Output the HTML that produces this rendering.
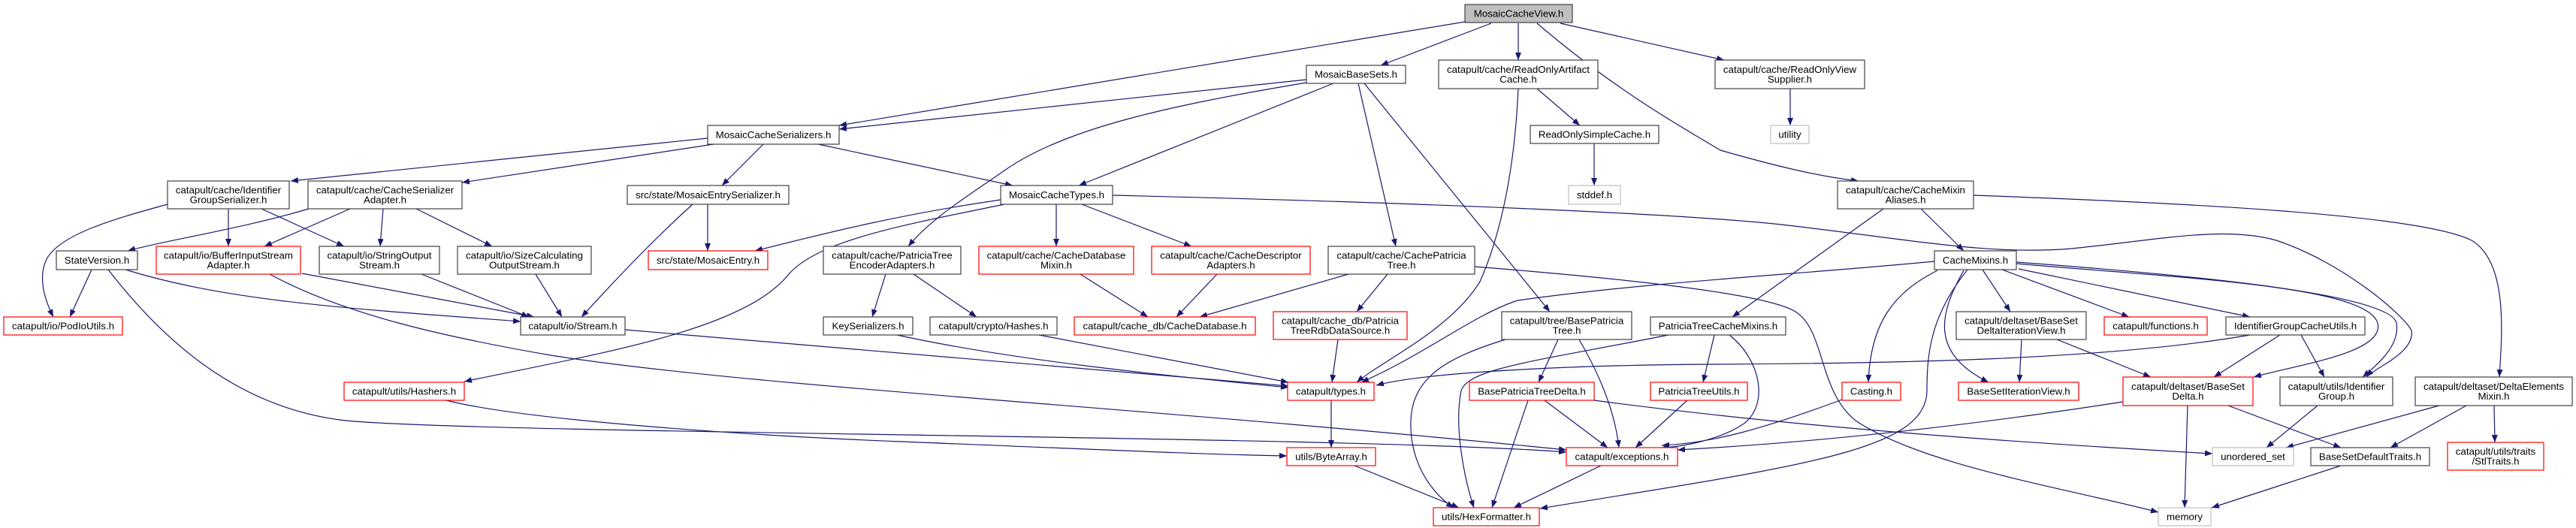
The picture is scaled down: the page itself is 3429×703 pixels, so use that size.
<!DOCTYPE html>
<html><head><meta charset="utf-8"><style>
html,body{margin:0;padding:0;background:#fff;}
svg{display:block;}
text{font-family:"Liberation Sans",Arial,sans-serif;font-size:13.3px;fill:#000;text-anchor:middle;}
.n{fill:#fff;stroke:#404040;stroke-width:1.2;}
.r{fill:#fff;stroke:#ff0000;stroke-width:1.2;}
.g{fill:#fff;stroke:#bfbfbf;stroke-width:1.2;}
.m{fill:#bfbfbf;stroke:#404040;stroke-width:1.2;}
path.e{fill:none;stroke:#191970;stroke-width:1.2;marker-end:url(#a);}
</style></head><body>
<svg width="3429" height="703" viewBox="0 0 3429 703" xmlns="http://www.w3.org/2000/svg">
<defs><marker id="a" markerWidth="10" markerHeight="8" refX="10" refY="4" orient="auto" markerUnits="userSpaceOnUse"><path d="M0,0 L10,4 L0,8z" fill="#191970"/></marker></defs>
<g>
<path class="e" d="M1950,29 L1117,167"/>
<path class="e" d="M1739,106 L1117,172"/>
<path class="e" d="M1985,31 L1838,87"/>
<path class="e" d="M2021,31 L2021,80"/>
<path class="e" d="M2046,31 C2150,120 2240,170 2290,200 C2360,220 2420,235 2474,241"/>
<path class="e" d="M2077,31 L2295,80"/>
<path class="e" d="M1775,111 L1436,247"/>
<path class="e" d="M1739,110 C1560,140 1420,170 1340,225 C1290,260 1240,290 1209,328"/>
<path class="e" d="M1808,111 L1858,328"/>
<path class="e" d="M1816,111 L2063,415"/>
<path class="e" d="M942,184 C700,210 540,225 387,241"/>
<path class="e" d="M950,192 L615,243"/>
<path class="e" d="M1016,192 L961,247"/>
<path class="e" d="M1089,192 L1348,247"/>
<path class="e" d="M223,272 C150,292 80,312 62,345 C50,370 60,400 71,422"/>
<path class="e" d="M304,278 L304,328"/>
<path class="e" d="M348,278 L458,328"/>
<path class="e" d="M411,278 C320,305 220,320 170,334"/>
<path class="e" d="M466,278 L352,328"/>
<path class="e" d="M510,278 L506,328"/>
<path class="e" d="M554,278 L655,328"/>
<path class="e" d="M942,272 L942,334"/>
<path class="e" d="M922,272 C880,310 840,350 774,422"/>
<path class="e" d="M122,359 L93,422"/>
<path class="e" d="M167,359 C300,400 450,410 693,428"/>
<path class="e" d="M144,359 C230,470 330,545 460,560 C650,578 1800,580 2085,602"/>
<path class="e" d="M402,364 L711,422"/>
<path class="e" d="M359,365 C460,420 600,450 733,473 C1000,515 1500,540 2085,599"/>
<path class="e" d="M561,365 L704,422"/>
<path class="e" d="M713,365 L748,422"/>
<path class="e" d="M832,439 L1715,514"/>
<path class="e" d="M594,533 C700,560 1000,580 1200,588 C1450,598 1600,605 1713,607"/>
<path class="e" d="M1332,266 C1200,285 1100,310 1005,334"/>
<path class="e" d="M1337,272 C1200,300 1090,320 1050,365 C990,440 800,470 618,508"/>
<path class="e" d="M1406,272 L1406,328"/>
<path class="e" d="M1440,272 L1586,328"/>
<path class="e" d="M1481,260 C1900,270 2250,285 2380,300 C2550,320 2650,340 2757,331 C2870,320 2960,300 3030,320 C3120,350 3200,420 3210,440 C3215,470 3160,490 3150,502"/>
<path class="e" d="M1620,365 L1566,422"/>
<path class="e" d="M1438,365 L1528,422"/>
<path class="e" d="M1179,365 L1161,422"/>
<path class="e" d="M1216,365 L1300,422"/>
<path class="e" d="M1194,446 C1350,480 1550,500 1715,516"/>
<path class="e" d="M1383,446 L1715,509"/>
<path class="e" d="M1795,365 L1597,422"/>
<path class="e" d="M1847,365 L1806,415"/>
<path class="e" d="M1963,355 C2150,370 2350,390 2390,415 C2430,440 2420,520 2470,560 C2560,620 2750,650 2873,682"/>
<path class="e" d="M1781,452 L1773,509"/>
<path class="e" d="M2046,118 L2103,167"/>
<path class="e" d="M2021,118 C2015,250 1990,330 1970,375 C1930,440 1840,480 1806,509"/>
<path class="e" d="M2122,191 L2122,247"/>
<path class="e" d="M2383,118 L2383,167"/>
<path class="e" d="M2004,452 C1930,475 1880,500 1878,560 C1876,620 1910,660 1935,676"/>
<path class="e" d="M2074,452 L2048,509"/>
<path class="e" d="M2102,452 C2130,500 2150,550 2155,596"/>
<path class="e" d="M2221,446 C2050,480 1955,490 1945,520 C1935,570 1950,640 1962,676"/>
<path class="e" d="M2282,446 L2267,509"/>
<path class="e" d="M2302,446 C2345,480 2355,540 2320,565 C2290,585 2240,595 2212,596"/>
<path class="e" d="M2507,278 L2306,422"/>
<path class="e" d="M2557,278 L2614,334"/>
<path class="e" d="M2627,260 C2900,270 3220,285 3290,320 C3340,350 3330,450 3327,502"/>
<path class="e" d="M2575,348 C2400,365 2200,375 2020,400 C1960,420 1900,470 1812,509"/>
<path class="e" d="M2619,359 C2570,420 2565,470 2565,520 C2565,600 2400,620 2050,677"/>
<path class="e" d="M2579,360 C2520,390 2490,430 2487,509"/>
<path class="e" d="M2614,360 C2580,420 2570,470 2647,509"/>
<path class="e" d="M2639,359 L2676,415"/>
<path class="e" d="M2665,359 L2834,422"/>
<path class="e" d="M2687,358 L2995,422"/>
<path class="e" d="M2684,351 C2900,370 3150,380 3165,430 C3175,470 3060,485 3000,502"/>
<path class="e" d="M2684,349 C2900,365 3180,390 3190,430 C3195,460 3165,485 3145,502"/>
<path class="e" d="M2122,533 C2400,570 2700,590 2945,604"/>
<path class="e" d="M2826,535 C2600,570 2400,590 2233,599"/>
<path class="e" d="M2452,532 C2350,570 2280,590 2212,593"/>
<path class="e" d="M2246,533 L2177,596"/>
<path class="e" d="M2056,533 L2140,596"/>
<path class="e" d="M2034,533 L1986,676"/>
<path class="e" d="M2131,620 L2015,676"/>
<path class="e" d="M1803,620 L1942,676"/>
<path class="e" d="M1772,533 L1772,596"/>
<path class="e" d="M2691,452 L2688,509"/>
<path class="e" d="M2738,452 L2863,502"/>
<path class="e" d="M3035,446 L2947,502"/>
<path class="e" d="M3063,446 L3094,502"/>
<path class="e" d="M2995,446 C2800,480 2500,484 2280,485 C2100,486 1900,495 1832,513"/>
<path class="e" d="M2912,540 L2908,676"/>
<path class="e" d="M2966,540 L3116,596"/>
<path class="e" d="M3085,540 L3017,596"/>
<path class="e" d="M3247,540 L3043,596"/>
<path class="e" d="M3283,540 L3182,596"/>
<path class="e" d="M3320,540 L3321,589"/>
<path class="e" d="M3116,620 L2944,676"/>
</g>
<g>
<rect class="m" x="1950" y="6" width="143" height="24"/><text x="2021.5" y="22.5">MosaicCacheView.h</text>
<rect class="n" x="1739" y="87" width="132" height="24"/><text x="1805" y="103.5">MosaicBaseSets.h</text>
<rect class="n" x="1915" y="80" width="212" height="38"/><text x="2021" y="97">catapult/cache/ReadOnlyArtifact</text><text x="2021" y="110">Cache.h</text>
<rect class="n" x="2283" y="80" width="199" height="38"/><text x="2382.5" y="97">catapult/cache/ReadOnlyView</text><text x="2382.5" y="110">Supplier.h</text>
<rect class="n" x="942" y="167" width="175" height="25"/><text x="1029.5" y="184">MosaicCacheSerializers.h</text>
<rect class="n" x="2037" y="167" width="171" height="24"/><text x="2122.5" y="183.5">ReadOnlySimpleCache.h</text>
<rect class="g" x="2357" y="167" width="51" height="24"/><text x="2382.5" y="183.5">utility</text>
<rect class="n" x="223" y="241" width="162" height="37"/><text x="304" y="257.5">catapult/cache/Identifier</text><text x="304" y="270.5">GroupSerializer.h</text>
<rect class="n" x="410" y="241" width="205" height="37"/><text x="512.5" y="257.5">catapult/cache/CacheSerializer</text><text x="512.5" y="270.5">Adapter.h</text>
<rect class="n" x="835" y="247" width="215" height="25"/><text x="942.5" y="264">src/state/MosaicEntrySerializer.h</text>
<rect class="n" x="1332" y="247" width="149" height="25"/><text x="1406.5" y="264">MosaicCacheTypes.h</text>
<rect class="g" x="2088" y="247" width="69" height="25"/><text x="2122.5" y="264">stddef.h</text>
<rect class="n" x="2446" y="241" width="181" height="37"/><text x="2536.5" y="257.5">catapult/cache/CacheMixin</text><text x="2536.5" y="270.5">Aliases.h</text>
<rect class="n" x="75" y="334" width="108" height="25"/><text x="129" y="351">StateVersion.h</text>
<rect class="r" x="208" y="328" width="192" height="37"/><text x="304" y="344.5">catapult/io/BufferInputStream</text><text x="304" y="357.5">Adapter.h</text>
<rect class="n" x="425" y="328" width="160" height="37"/><text x="505" y="344.5">catapult/io/StringOutput</text><text x="505" y="357.5">Stream.h</text>
<rect class="n" x="609" y="328" width="178" height="37"/><text x="698" y="344.5">catapult/io/SizeCalculating</text><text x="698" y="357.5">OutputStream.h</text>
<rect class="r" x="863" y="334" width="159" height="25"/><text x="942.5" y="351">src/state/MosaicEntry.h</text>
<rect class="n" x="1096" y="328" width="183" height="37"/><text x="1187.5" y="344.5">catapult/cache/PatriciaTree</text><text x="1187.5" y="357.5">EncoderAdapters.h</text>
<rect class="r" x="1303" y="328" width="206" height="37"/><text x="1406" y="344.5">catapult/cache/CacheDatabase</text><text x="1406" y="357.5">Mixin.h</text>
<rect class="r" x="1533" y="328" width="211" height="37"/><text x="1638.5" y="344.5">catapult/cache/CacheDescriptor</text><text x="1638.5" y="357.5">Adapters.h</text>
<rect class="n" x="1768" y="328" width="195" height="37"/><text x="1865.5" y="344.5">catapult/cache/CachePatricia</text><text x="1865.5" y="357.5">Tree.h</text>
<rect class="n" x="2575" y="334" width="109" height="25"/><text x="2629.5" y="351">CacheMixins.h</text>
<rect class="r" x="5" y="422" width="158" height="24"/><text x="84" y="438.5">catapult/io/PodIoUtils.h</text>
<rect class="n" x="693" y="422" width="139" height="24"/><text x="762.5" y="438.5">catapult/io/Stream.h</text>
<rect class="n" x="1096" y="422" width="119" height="24"/><text x="1155.5" y="438.5">KeySerializers.h</text>
<rect class="n" x="1238" y="422" width="169" height="24"/><text x="1322.5" y="438.5">catapult/crypto/Hashes.h</text>
<rect class="r" x="1430" y="422" width="241" height="24"/><text x="1550.5" y="438.5">catapult/cache_db/CacheDatabase.h</text>
<rect class="r" x="1695" y="415" width="178" height="37"/><text x="1784" y="431.5">catapult/cache_db/Patricia</text><text x="1784" y="444.5">TreeRdbDataSource.h</text>
<rect class="n" x="1999" y="415" width="173" height="37"/><text x="2085.5" y="431.5">catapult/tree/BasePatricia</text><text x="2085.5" y="444.5">Tree.h</text>
<rect class="n" x="2197" y="422" width="180" height="24"/><text x="2287" y="438.5">PatriciaTreeCacheMixins.h</text>
<rect class="n" x="2604" y="415" width="173" height="37"/><text x="2690.5" y="431.5">catapult/deltaset/BaseSet</text><text x="2690.5" y="444.5">DeltaIterationView.h</text>
<rect class="r" x="2801" y="422" width="137" height="24"/><text x="2869.5" y="438.5">catapult/functions.h</text>
<rect class="n" x="2963" y="422" width="185" height="24"/><text x="3055.5" y="438.5">IdentifierGroupCacheUtils.h</text>
<rect class="r" x="458" y="509" width="160" height="24"/><text x="538" y="525.5">catapult/utils/Hashers.h</text>
<rect class="r" x="1714" y="509" width="115" height="24"/><text x="1771.5" y="525.5">catapult/types.h</text>
<rect class="r" x="1956" y="509" width="166" height="24"/><text x="2039" y="525.5">BasePatriciaTreeDelta.h</text>
<rect class="r" x="2197" y="509" width="129" height="24"/><text x="2261.5" y="525.5">PatriciaTreeUtils.h</text>
<rect class="r" x="2452" y="509" width="78" height="24"/><text x="2491" y="525.5">Casting.h</text>
<rect class="r" x="2607" y="509" width="160" height="24"/><text x="2687" y="525.5">BaseSetIterationView.h</text>
<rect class="r" x="2826" y="502" width="173" height="38"/><text x="2912.5" y="519">catapult/deltaset/BaseSet</text><text x="2912.5" y="532">Delta.h</text>
<rect class="n" x="3035" y="502" width="150" height="38"/><text x="3110" y="519">catapult/utils/Identifier</text><text x="3110" y="532">Group.h</text>
<rect class="n" x="3215" y="502" width="209" height="38"/><text x="3319.5" y="519">catapult/deltaset/DeltaElements</text><text x="3319.5" y="532">Mixin.h</text>
<rect class="r" x="1713" y="596" width="118" height="24"/><text x="1772" y="612.5">utils/ByteArray.h</text>
<rect class="r" x="2085" y="596" width="148" height="24"/><text x="2159" y="612.5">catapult/exceptions.h</text>
<rect class="g" x="2945" y="596" width="108" height="24"/><text x="2999" y="612.5">unordered_set</text>
<rect class="n" x="3076" y="596" width="158" height="24"/><text x="3155" y="612.5">BaseSetDefaultTraits.h</text>
<rect class="r" x="3258" y="589" width="128" height="37"/><text x="3322" y="605.5">catapult/utils/traits</text><text x="3322" y="618.5">/StlTraits.h</text>
<rect class="r" x="1908" y="676" width="141" height="24"/><text x="1978.5" y="692.5">utils/HexFormatter.h</text>
<rect class="g" x="2873" y="676" width="70" height="24"/><text x="2908" y="692.5">memory</text>
</g>
</svg>
</body></html>
